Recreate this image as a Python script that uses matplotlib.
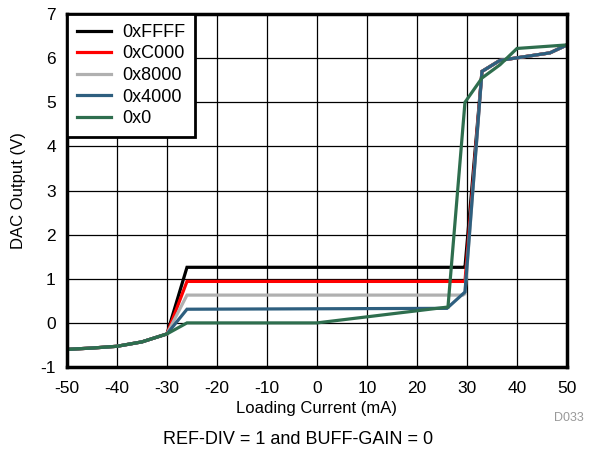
import matplotlib
matplotlib.use("Agg")
import matplotlib.pyplot as plt

plt.rcParams['font.family'] = ['Liberation Sans', 'DejaVu Sans']
plt.rcParams['axes.unicode_minus'] = False

labels = ["0xFFFF", "0xC000", "0x8000", "0x4000", "0x0"]
colors = ["#000000", "#ff0000", "#b0b0b0", "#2e5f7f", "#2e6e4e"]

common_x = [-50, -45, -40, -35, -30]
common_y = [-0.60, -0.57, -0.53, -0.43, -0.25]

x_ffff = common_x + [-26, 29.2, 29.6, 33, 36.6, 46.6, 50]
y_ffff = common_y + [1.26, 1.26, 1.26, 5.7, 5.95, 6.12, 6.3]
x_c000 = common_x + [-26, 29.2, 29.6, 33, 36.6, 46.6, 50]
y_c000 = common_y + [0.94, 0.94, 0.94, 5.7, 5.95, 6.12, 6.3]
x_8000 = common_x + [-26, 29.2, 29.6, 33, 36.6, 46.6, 50]
y_8000 = common_y + [0.63, 0.63, 0.66, 5.7, 5.95, 6.12, 6.3]
x_4000 = common_x + [-26, 26, 29.6, 33, 36.6, 46.6, 50]
y_4000 = common_y + [0.31, 0.33, 0.70, 5.7, 5.95, 6.12, 6.3]
x_0 = common_x + [-26, 0, 26.2, 29.6, 33, 36.6, 40, 50]
y_0 = common_y + [0.0, 0.0, 0.36, 5.0, 5.55, 5.85, 6.22, 6.3]

series_x = [x_ffff, x_c000, x_8000, x_4000, x_0]
series_y = [y_ffff, y_c000, y_8000, y_4000, y_0]

xticks = list(range(-50, 51, 10))
yticks = list(range(-1, 8))

fig = plt.figure(figsize=(5.97, 4.53), dpi=100)
ax = fig.add_axes([0.1122, 0.1898, 0.8375, 0.7792])

for xs, ys, c, lab in zip(series_x, series_y, colors, labels):
    ax.plot(xs, ys, color=c, lw=2.3, label=lab, solid_joinstyle='miter')

ax.set_xlim(-50, 50)
ax.set_ylim(-1, 7)
ax.set_xticks(xticks)
ax.set_yticks(yticks)
ax.grid(True, color='black', lw=0.9)
ax.set_axisbelow(True)
ax.tick_params(length=0, labelsize=12.5)
ax.tick_params(axis='x', pad=10)
ax.tick_params(axis='y', pad=8)
for s in ax.spines.values():
    s.set_linewidth(2.5)
ax.set_xlabel("Loading Current (mA)", fontsize=12, labelpad=4)
ax.set_ylabel("DAC Output (V)", fontsize=12, labelpad=10)

leg = ax.legend(loc='upper left', fontsize=13, frameon=True, fancybox=False,
                borderaxespad=0, handlelength=1.9, handletextpad=0.6,
                labelspacing=0.25, borderpad=0.55)
leg.get_frame().set_edgecolor('black')
leg.get_frame().set_linewidth(2)
leg.get_frame().set_alpha(1)

fig.text(0.977, 0.077, "D033", fontsize=9, color='#999999', ha='right', va='center')
fig.text(0.5, 0.029, "REF-DIV = 1 and BUFF-GAIN = 0", fontsize=13, ha='center', va='center')

fig.savefig("out.png", dpi=100)
